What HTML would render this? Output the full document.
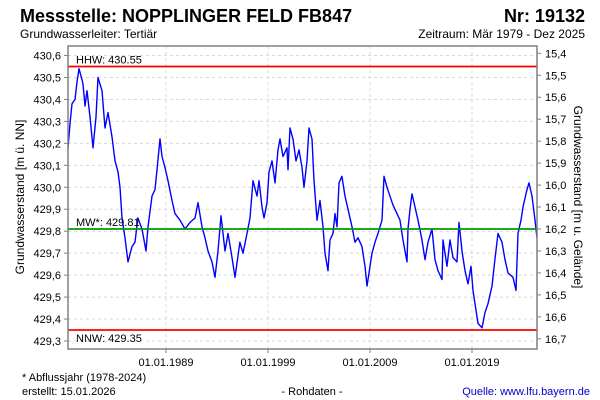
<!DOCTYPE html>
<html><head><meta charset="utf-8"><style>
body{margin:0;background:#fff;width:600px;height:400px;overflow:hidden}
svg{display:block;font-family:"Liberation Sans",sans-serif}
</style></head><body>
<svg id="c" width="600" height="400">
<text x="20" y="22" font-size="18" font-weight="bold">Messstelle: NOPPLINGER FELD FB847</text>
<text x="585" y="22" font-size="18" font-weight="bold" text-anchor="end">Nr: 19132</text>
<text x="20" y="38" font-size="12">Grundwasserleiter: Tertiär</text>
<text x="585" y="38" font-size="12" text-anchor="end">Zeitraum: Mär 1979 - Dez 2025</text>
<g id="grid"></g><g id="axes"></g><g id="series"></g>
<rect x="68" y="46" width="469" height="303" fill="none" stroke="#808080" stroke-width="1.5"/>
<text transform="translate(24,197) rotate(-90)" font-size="12" text-anchor="middle">Grundwasserstand [m ü. NN]</text>
<text transform="translate(574,197) rotate(90)" font-size="12" text-anchor="middle">Grundwasserstand [m u. Gelände]</text>
<text x="22" y="381" font-size="11">* Abflussjahr (1978-2024)</text>
<text x="22" y="395" font-size="11">erstellt:  15.01.2026</text>
<text x="312" y="395" font-size="11" text-anchor="middle">- Rohdaten -</text>
<text x="590" y="395" font-size="11" text-anchor="end" fill="#0000cc">Quelle: www.lfu.bayern.de</text>
</svg>
<script>
const leftTicks=[429.3,429.4,429.5,429.6,429.7,429.8,429.9,430.0,430.1,430.2,430.3,430.4,430.5,430.6];
const rightTicks=[15.4,15.5,15.6,15.7,15.8,15.9,16.0,16.1,16.2,16.3,16.4,16.5,16.6,16.7];
const xTickYears=[1989,1999,2009,2019];
const xTickLabels=["01.01.1989","01.01.1999","01.01.2009","01.01.2019"];
const refNames=["HHW: 430.55","MW*: 429.81","NNW: 429.35"];
const refValues=[430.55,429.81,429.35];
const refColors=["#ff0000","#009900","#ff0000"];
const groundRef=446.01;
const years=[1979.39,1979.59,1979.78,1980.08,1980.27,1980.47,1980.76,1980.86,1981.06,1981.25,1981.55,1981.84,1982.14,1982.33,1982.73,1983.02,1983.31,1983.71,1984.00,1984.29,1984.49,1984.69,1984.98,1985.27,1985.67,1985.96,1986.25,1986.65,1987.04,1987.24,1987.63,1987.92,1988.12,1988.41,1988.61,1988.90,1989.20,1989.59,1989.88,1990.37,1990.86,1991.35,1991.84,1992.14,1992.53,1992.82,1993.12,1993.51,1993.80,1994.10,1994.39,1994.78,1995.08,1995.47,1995.76,1996.25,1996.55,1996.94,1997.24,1997.53,1997.92,1998.12,1998.41,1998.61,1998.90,1999.10,1999.39,1999.69,1999.98,2000.18,2000.47,2000.86,2000.96,2001.16,2001.45,2001.75,2002.04,2002.33,2002.53,2002.82,2003.02,2003.31,2003.51,2003.80,2004.10,2004.39,2004.59,2004.88,2005.08,2005.37,2005.57,2005.76,2005.96,2006.25,2006.55,2006.84,2007.24,2007.53,2007.82,2008.22,2008.51,2008.71,2009.20,2009.49,2009.78,2010.18,2010.37,2010.67,2011.25,2011.94,2012.24,2012.63,2012.73,2012.92,2013.12,2013.41,2013.71,2014.10,2014.39,2014.69,2015.08,2015.37,2015.67,2016.06,2016.16,2016.55,2016.84,2017.14,2017.53,2017.73,2018.02,2018.31,2018.61,2018.90,2019.10,2019.39,2019.59,2019.98,2020.27,2020.57,2020.96,2021.25,2021.55,2021.94,2022.24,2022.53,2023.02,2023.31,2023.51,2023.80,2024.00,2024.39,2024.59,2024.88,2025.18,2025.37];
const levels=[430.18,430.29,430.38,430.40,430.48,430.54,430.49,430.47,430.37,430.44,430.32,430.18,430.32,430.50,430.44,430.27,430.34,430.23,430.12,430.07,430.00,429.86,429.77,429.66,429.73,429.75,429.86,429.81,429.71,429.82,429.96,429.99,430.08,430.22,430.14,430.09,430.03,429.94,429.88,429.85,429.81,429.84,429.86,429.93,429.82,429.77,429.71,429.66,429.59,429.71,429.87,429.71,429.79,429.68,429.59,429.75,429.70,429.79,429.86,430.03,429.96,430.03,429.91,429.86,429.93,430.07,430.12,430.02,430.17,430.22,430.14,430.18,430.08,430.27,430.22,430.12,430.17,430.09,430.00,430.12,430.27,430.22,430.03,429.85,429.94,429.82,429.70,429.62,429.76,429.79,429.88,429.82,430.02,430.05,429.96,429.90,429.82,429.75,429.77,429.73,429.64,429.55,429.70,429.75,429.79,429.85,430.05,430.00,429.92,429.85,429.76,429.66,429.81,429.90,429.97,429.91,429.85,429.76,429.67,429.75,429.81,429.67,429.62,429.58,429.76,429.64,429.76,429.68,429.66,429.84,429.71,429.62,429.56,429.64,429.53,429.44,429.38,429.36,429.43,429.47,429.55,429.67,429.79,429.75,429.67,429.61,429.59,429.53,429.79,429.85,429.91,429.99,430.02,429.96,429.85,429.77];

const NS="http://www.w3.org/2000/svg";
const X0=68,X1=537;
function xs(yr){return 166+(yr-1989)*10.2;}
function ys(v){return 341-(v-429.3)*219.6;}
function mk(tag,attrs,parent){const e=document.createElementNS(NS,tag);for(const k in attrs)e.setAttribute(k,attrs[k]);parent.appendChild(e);return e;}
const grid=document.getElementById('grid'),axes=document.getElementById('axes'),ser=document.getElementById('series');
leftTicks.forEach((v,i)=>{
 const y=ys(v);
 const g=mk('line',{x1:X0,x2:X1,y1:y,y2:y,stroke:'#d8d8d8','stroke-dasharray':'3,3'},grid);
 
 
 mk('line',{x1:X0-4,x2:X0,y1:y,y2:y,stroke:'#808080'},axes);
 const t=mk('text',{x:X0-7,y:y+4,'font-size':11,'text-anchor':'end'},axes);
 t.textContent=v.toFixed(1).replace('.',',');
 
 
});
rightTicks.forEach(d=>{
 const y=ys(groundRef-d);
 mk('line',{x1:X1,x2:X1+4,y1:y,y2:y,stroke:'#808080'},axes);
 const t=mk('text',{x:X1+8,y:y+4,'font-size':11},axes);
 t.textContent=d.toFixed(1).replace('.',',');
 
 
});
xTickYears.forEach((yr,i)=>{
 const x=xs(yr);
 const g=mk('line',{x1:x,x2:x,y1:46,y2:349,stroke:'#d8d8d8','stroke-dasharray':'3,3'},grid);
 
 
 mk('line',{x1:x,x2:x,y1:349,y2:353,stroke:'#808080'},axes);
 const t=mk('text',{x:x,y:366,'font-size':11,'text-anchor':'middle'},axes);
 t.textContent=xTickLabels[i];
 
 
});
let d='';
years.forEach((yr,i)=>{d+=(i?'L':'M')+xs(yr).toFixed(1)+','+ys(levels[i]).toFixed(1);});
const p=mk('path',{d:d,fill:'none',stroke:'#0000ff','stroke-width':1.4,'stroke-linejoin':'round'},ser);


refValues.forEach((v,i)=>{
 const y=ys(v);
 const l=mk('line',{x1:X0,x2:X1,y1:y,y2:y,stroke:refColors[i],'stroke-width':1.8},ser);
 
 
 const ty=i==2?y+12:y-3;
 const t=mk('text',{x:X0+8,y:ty,'font-size':11},ser);
 t.textContent=refNames[i];
 
 
});
</script>
</body></html>
